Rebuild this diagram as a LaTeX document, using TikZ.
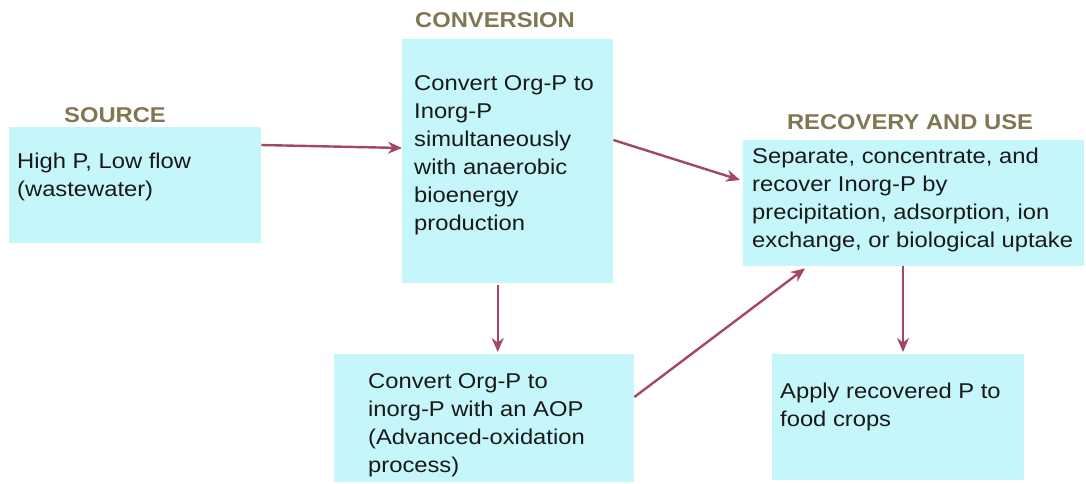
\documentclass[tikz,border=0pt]{standalone}
\usepackage{fontspec}
\setmainfont{Liberation Sans}[FakeStretch=1.11]
\usetikzlibrary{arrows.meta}
\definecolor{boxfill}{RGB}{196,246,250}
\definecolor{arrowcol}{RGB}{162,72,102}
\definecolor{titlecol}{RGB}{128,118,82}
\tikzset{
  boxnode/.style={draw=none, fill=boxfill, rectangle, inner sep=0pt},
  txt/.style={anchor=north west, inner sep=0pt, align=left, font=\fontsize{21.4}{28}\selectfont, text=black!90},
  ttl/.style={anchor=base, inner sep=0pt, font=\fontsize{21.4}{25}\selectfont\bfseries, text=titlecol},
  arr/.style={draw=arrowcol, line width=2.4pt, -{Stealth[length=14pt,width=12pt]}}
}
\begin{document}
\begin{tikzpicture}[x=1pt,y=-1pt]
\useasboundingbox (0,0) rectangle (1086,483);
% boxes
\node[boxnode, minimum width=252pt, minimum height=116pt, anchor=north west] (src) at (9,127) {};
\node[boxnode, minimum width=211pt, minimum height=244pt, anchor=north west] (conv) at (402,39) {};
\node[boxnode, minimum width=341pt, minimum height=126pt, anchor=north west] (rec) at (743,140) {};
\node[boxnode, minimum width=300pt, minimum height=128pt, anchor=north west] (aop) at (334,354) {};
\node[boxnode, minimum width=252pt, minimum height=126pt, anchor=north west] (app) at (772,354) {};
% titles
\node[ttl] (tsrc) at (115,122) {SOURCE};
\node[ttl] (tconv) at (495,27) {CONVERSION};
\node[ttl] (trec) at (910,129) {RECOVERY AND USE};
% texts
\node[txt] (xsrc) at (17,153) {High P, Low flow\\(wastewater)};
\node[txt] (xconv) at (414,75) {Convert Org-P to\\Inorg-P\\simultaneously\\with anaerobic\\bioenergy\\production};
\node[txt] (xrec) at (752,148) {Separate, concentrate, and\\recover Inorg-P by\\precipitation, adsorption, ion\\exchange, or biological uptake};
\node[txt] (xaop) at (368,373) {Convert Org-P to\\inorg-P with an AOP\\(Advanced-oxidation\\process)};
\node[txt] (xapp) at (780,383) {Apply recovered P to\\food crops};
% arrows
\draw[arr] ([yshift=-18pt]src.north east) -- ([yshift=-109pt]conv.north west);
\draw[arr] ([yshift=-101pt]conv.north east) -- ([xshift=-3pt,yshift=-40pt]rec.north west);
\draw[arr] ([xshift=-10pt,yshift=-2pt]conv.south) -- ([xshift=-10pt,yshift=2pt]conv.south |- aop.north);
\draw[arr] ([yshift=-43pt]aop.north east) -- ([xshift=62pt,yshift=-2pt]rec.south west);
\draw[arr] ([xshift=160pt]rec.south west) -- ([xshift=131pt,yshift=2pt]app.north west);
\end{tikzpicture}
\end{document}
